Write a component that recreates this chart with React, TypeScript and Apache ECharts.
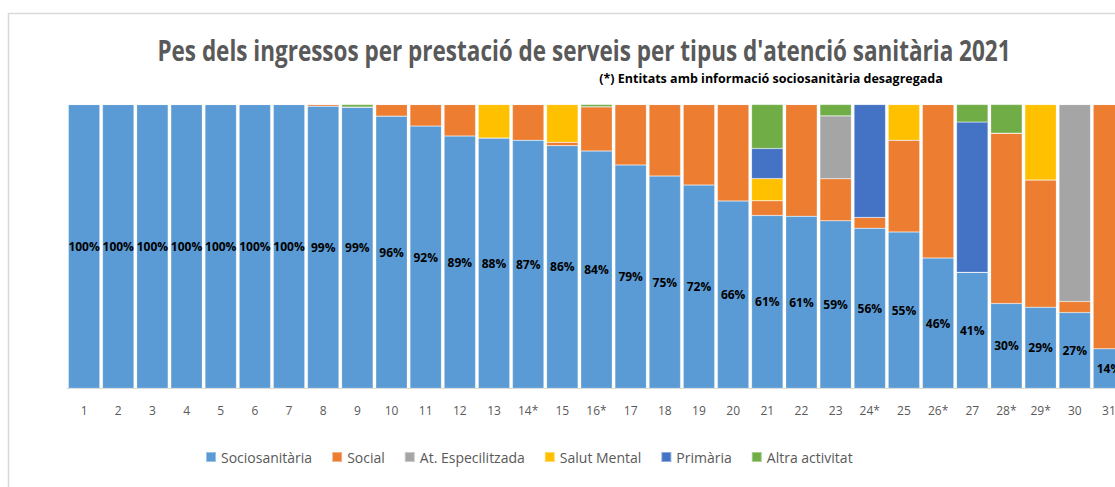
import React, { useEffect, useRef } from "react";
import * as echarts from "echarts";

const categories = ["1","2","3","4","5","6","7","8","9","10","11","12","13","14*","15","16*","17","18","19","20","21","22","23","24*","25","26*","27","28*","29*","30","31"];

const sociosanitaria = [100,100,100,100,100,100,100,99.4,99.1,95.9,92.4,88.9,88.2,87.4,85.5,83.6,78.7,74.8,71.6,66.0,60.9,60.6,59.0,56.4,55.1,45.9,40.9,29.9,28.6,26.7,13.9];
const social = [0,0,0,0,0,0,0,0.6,0,4.1,7.6,11.1,0,12.6,1.2,15.6,21.3,25.2,28.4,34.0,5.2,39.4,14.8,3.8,32.3,54.1,0,60.0,44.8,3.9,86.1];
const especialitzada = [0,0,0,0,0,0,0,0,0,0,0,0,0,0,0,0,0,0,0,0,0,0,22.2,0,0,0,0,0,0,69.4,0];
const salutMental = [0,0,0,0,0,0,0,0,0,0,0,0,11.8,0,13.3,0,0,0,0,0,7.8,0,0,0,12.6,0,0,0,26.6,0,0];
const primaria = [0,0,0,0,0,0,0,0,0,0,0,0,0,0,0,0,0,0,0,0,10.6,0,0,39.8,0,0,52.9,0,0,0,0];
const altra = [0,0,0,0,0,0,0,0,0.9,0,0,0,0,0,0,0.8,0,0,0,0,15.5,0,4.0,0,0,0,6.2,10.1,0,0,0];

const seriesNames = ["Sociosanitària","Social","At. Especilitzada","Salut Mental","Primària","Altra activitat"];
const seriesData = [sociosanitaria, social, especialitzada, salutMental, primaria, altra];
const colors = ["#5B9BD5","#ED7D31","#A5A5A5","#FFC000","#4472C4","#70AD47"];

const titleText = "Pes dels ingressos per prestació de serveis per tipus d'atenció sanitària 2021";
const subtitleText = "(*) Entitats amb informació sociosanitària desagregada";

const FONT = "'Open Sans', 'Liberation Sans', sans-serif";

function measure(font: string, text: string): number {
  const ctx = document.createElement("canvas").getContext("2d");
  if (!ctx) return 0;
  ctx.font = font;
  return ctx.measureText(text).width;
}

export default function App() {
  const ref = useRef<HTMLDivElement>(null);
  useEffect(() => {
    if (!ref.current) return;
    const chart = echarts.init(ref.current, null, { renderer: "svg" });
    const titleFont = "bold 28px " + FONT;
    const subFont = "bold 13px " + FONT;
    const tw = measure(titleFont, titleText) || 854;
    const sw = measure(subFont, subtitleText) || 342;
    chart.setOption({
      animation: false,
      backgroundColor: "#ffffff",
      color: colors,
      textStyle: { fontFamily: FONT },
      graphic: [
        {
          type: "rect",
          shape: { x: 8.5, y: 13.5, width: 1200, height: 600 },
          style: { fill: "none", stroke: "#D9D9D9", lineWidth: 1.5 },
          silent: true,
        },
        {
          type: "text",
          x: 584,
          y: 50,
          scaleX: 854 / tw,
          style: {
            text: titleText,
            fill: "#595959",
            font: titleFont,
            align: "center",
            verticalAlign: "middle",
          },
        },
        {
          type: "text",
          x: 771,
          y: 78,
          scaleX: 344 / sw,
          style: {
            text: subtitleText,
            fill: "#000000",
            font: subFont,
            align: "center",
            verticalAlign: "middle",
          },
        },
      ],
      legend: {
        top: 450,
        left: 205,
        padding: 0,
        itemWidth: 10,
        itemHeight: 10,
        itemGap: 19,
        icon: "rect",
        textStyle: { color: "#595959", fontSize: 14, fontFamily: FONT },
        data: seriesNames,
      },
      grid: { left: 67, right: 0, top: 104.5, bottom: 98.7, containLabel: false },
      xAxis: {
        type: "category",
        data: categories,
        axisLine: { lineStyle: { color: "#D9D9D9", width: 1 } },
        axisTick: { show: false },
        axisLabel: { color: "#595959", fontSize: 12, margin: 16, interval: 0, fontFamily: FONT },
      },
      yAxis: {
        type: "value",
        min: 0,
        max: 100,
        show: false,
        splitLine: { show: false },
      },
      series: seriesData.map((d, i) => ({
        name: seriesNames[i],
        type: "bar",
        stack: "total",
        data: d,
        barCategoryGap: "8%",
        itemStyle: { color: colors[i], borderColor: "rgba(255,255,255,0.4)", borderWidth: 0.5 },
        label:
          i === 0
            ? {
                show: true,
                position: "inside",
                color: "#000000",
                fontWeight: "bold",
                fontSize: 12,
                fontFamily: FONT,
                formatter: (p: any) => Math.round(p.value) + "%",
              }
            : { show: false },
      })),
    });
    return () => chart.dispose();
  }, []);
  return (
    <div style={{ position: "fixed", left: 0, top: 0, width: 1115, height: 487, overflow: "hidden", background: "#fff" }}>
      <div ref={ref} style={{ position: "absolute", left: 0, top: 0, width: 1126, height: 487 }} />
    </div>
  );
}
